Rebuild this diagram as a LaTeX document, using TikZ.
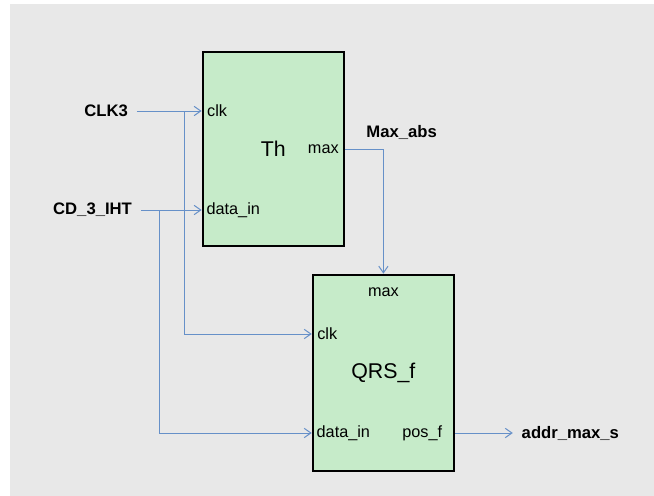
\documentclass[tikz,border=0pt]{standalone}
\usepackage{fontspec}
\setmainfont{Liberation Sans}
\usetikzlibrary{arrows.meta,positioning}
\definecolor{softgrey}{HTML}{E8E8E8}
\definecolor{softgreen}{HTML}{C6EBC9}
\definecolor{wireblue}{HTML}{6690C8}
\tikzset{
  unit/.style={draw=black,line width=1.5pt,fill=softgreen,inner sep=0pt,
               minimum width=106pt,minimum height=146pt,
               font=\fontsize{16}{18}\selectfont},
  port/.style={inner sep=0pt,font=\fontsize{12.2}{14}\selectfont},
  signal/.style={inner xsep=6.5pt,inner ysep=0pt,
                 font=\bfseries\fontsize{12.5}{14}\selectfont},
  wire/.style={draw=wireblue,line width=0.75pt},
  flow/.style={wire,-{Straight Barb[length=5pt,width=7pt]}}
}
\begin{document}
\begin{tikzpicture}[x=0.75pt,y=-0.75pt]
  \useasboundingbox (0,0) rectangle (654,496);
  \fill[softgrey] (10,4) rectangle (654,496);
  % blocks
  \node[unit] (th) at (273.3,149) {Th};
  \node[unit,minimum height=147.5pt] (qrs) at (383.4,373) {QRS\_f};
  % pin points on the block edges
  \coordinate (thclkin) at (th.west |- 0,111);
  \coordinate (thdatain) at (th.west |- 0,210);
  \coordinate (thmaxout) at (th.east |- 0,149);
  \coordinate (qrsclkin) at (qrs.west |- 0,334);
  \coordinate (qrsdatain) at (qrs.west |- 0,433);
  \coordinate (qrsposout) at (qrs.east |- 0,433);
  % pin names
  \node[port,right=4pt of thclkin] (thclk) {clk};
  \node[port,right=3.5pt of thdatain] (thdata) {data\_in};
  \node[port,left=4.5pt of thmaxout] (thmax) {max};
  \node[port,below=10.5pt of qrs.north] (qrsmax) {max};
  \node[port,right=4pt of qrsclkin] (qrsclk) {clk};
  \node[port,right=3.5pt of qrsdatain] (qrsdata) {data\_in};
  \node[port,left=9.5pt of qrsposout] (qrspos) {pos\_f};
  % signals
  \node[signal,left=48.6pt of thclkin] (clk3) {CLK3};
  \node[signal,left=45.6pt of thdatain] (cd3) {CD\_3\_IHT};
  \node[signal,anchor=west] (maxabs) at ([shift={(12.5,-17)}]thmaxout) {Max\_abs};
  \node[signal,right=43.3pt of qrsposout] (addr) {addr\_max\_s};
  \coordinate (clkfork) at (184.3,111);
  \coordinate (datafork) at (159.3,210);
  % wires
  \draw[flow] (clk3) -- (thclkin);
  \draw[flow] (cd3) -- (thdatain);
  \draw[flow] (clkfork) |- (qrsclkin);
  \draw[flow] (datafork) |- (qrsdatain);
  \draw[flow] (thmaxout) -| (qrs.north);
  \draw[flow] (qrsposout) -- (addr);
\end{tikzpicture}
\end{document}
